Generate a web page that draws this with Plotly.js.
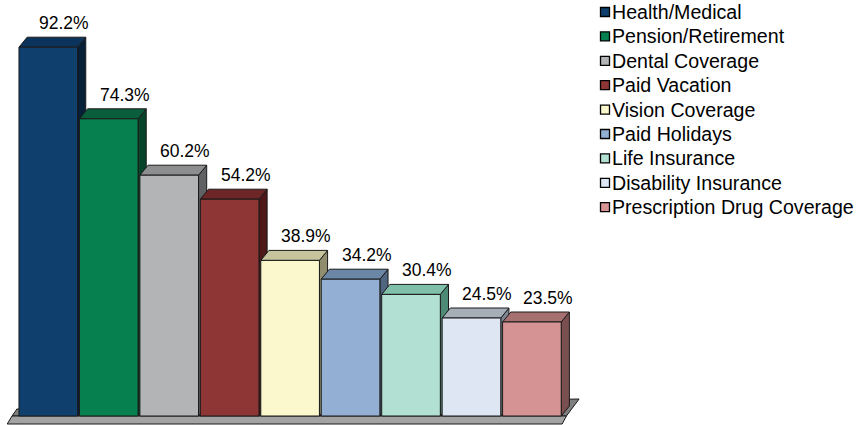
<!DOCTYPE html>
<html>
<head>
<meta charset="utf-8">
<script src="https://cdn.plot.ly/plotly-3.0.1.min.js"></script>
<style>
html,body{margin:0;padding:0;background:#fff;}
#chart{width:858px;height:425px;}
</style>
</head>
<body>
<div id="chart"></div>
<script>
// ---- data ----
const categories = ["Health/Medical","Pension/Retirement","Dental Coverage","Paid Vacation","Vision Coverage","Paid Holidays","Life Insurance","Disability Insurance","Prescription Drug Coverage"];
const values = [92.2, 74.3, 60.2, 54.2, 38.9, 34.2, 30.4, 24.5, 23.5];
const valueLabels = ["92.2%","74.3%","60.2%","54.2%","38.9%","34.2%","30.4%","24.5%","23.5%"];

// ---- styles ----
const frontColors = ["#0F3F6D","#07804F","#B2B4B6","#8E3535","#FAF8CC","#93AFD4","#B2E0D3","#DDE6F2","#D59493"];
const topColors   = ["#0C335B","#0B5E3C","#8C8E90","#6C2626","#C6C49C","#6C87A6","#80C0AA","#A6AEB8","#A67070"];
const sideColors  = ["#081F38","#064429","#5F6163","#4E1818","#8F8D6E","#4F6580","#4F8A76","#7E8791","#7A4F4F"];
const edge = "#1a1a1a";
const FONT = '"Liberation Sans", Arial, sans-serif';

const N = categories.length;
const HW = 0.485;   // half width of front face (category units)
const DX = 0.135;   // depth offset x (category units)
const DY = 2.5;     // depth offset y (value units)

function poly(xs, ys, fill, lw){
  return {type:"scatter", mode:"lines", x:xs.concat([xs[0]]), y:ys.concat([ys[0]]),
    fill:"toself", fillcolor:fill, line:{color:edge, width:lw===undefined?1:lw},
    hoverinfo:"skip", showlegend:false};
}

const traces = [];
// floor
traces.push(poly([-0.60, N-0.43, N-0.22, -0.52],[0, 0, 4.25, 1.75], "#808080", 1));
traces.push(poly([-0.68, N-0.50, N-0.43, -0.60],[-2, -2, 0, 0], "#A3A3A3", 1));

// bars (side, top, front) in order so the next bar overlaps the previous side
values.forEach((v,i)=>{
  const L = i-HW, R = i+HW;
  traces.push(poly([R, R, R+DX, R+DX],[0, v, v+DY, DY], sideColors[i]));
  traces.push(poly([L, R, R+DX, L+DX],[v, v, v+DY, v+DY], topColors[i]));
  const t = poly([L, R, R, L],[0, 0, v, v], frontColors[i]);
  t.name = categories[i];
  traces.push(t);
});

const annotations = values.map((v,i)=>({
  x: i+0.265, y: v+DY, xref:"x", yref:"y", text: valueLabels[i],
  showarrow:false, xanchor:"center", yanchor:"middle", yshift:14,
  font:{family:FONT, size:17.5, color:"#000"}
}));

// manual legend
const W = 858, H = 425;
const shapes = [];
categories.forEach((c,k)=>{
  const cy = 12 + 24.4*k;
  shapes.push({type:"rect", xref:"paper", yref:"paper",
    x0:600.5/W, x1:609.5/W, y0:1-(cy+4.5)/H, y1:1-(cy-4.5)/H,
    fillcolor:frontColors[k], line:{color:"#000", width:1.3}});
  annotations.push({x:611/W, y:1-cy/H, xref:"paper", yref:"paper", text:c,
    showarrow:false, xanchor:"left", yanchor:"middle", borderpad:0,
    font:{family:FONT, size:19.6, color:"#000"}});
});

const layout = {
  width:W, height:H,
  margin:{l:0,r:0,t:0,b:0},
  paper_bgcolor:"#fff", plot_bgcolor:"#fff",
  showlegend:false,
  xaxis:{range:[-0.799, 13.394], visible:false, fixedrange:true},
  yaxis:{range:[-2.25, 104], visible:false, fixedrange:true},
  annotations:annotations,
  shapes:shapes
};

Plotly.newPlot("chart", traces, layout, {staticPlot:true, displayModeBar:false});
</script>
</body>
</html>
